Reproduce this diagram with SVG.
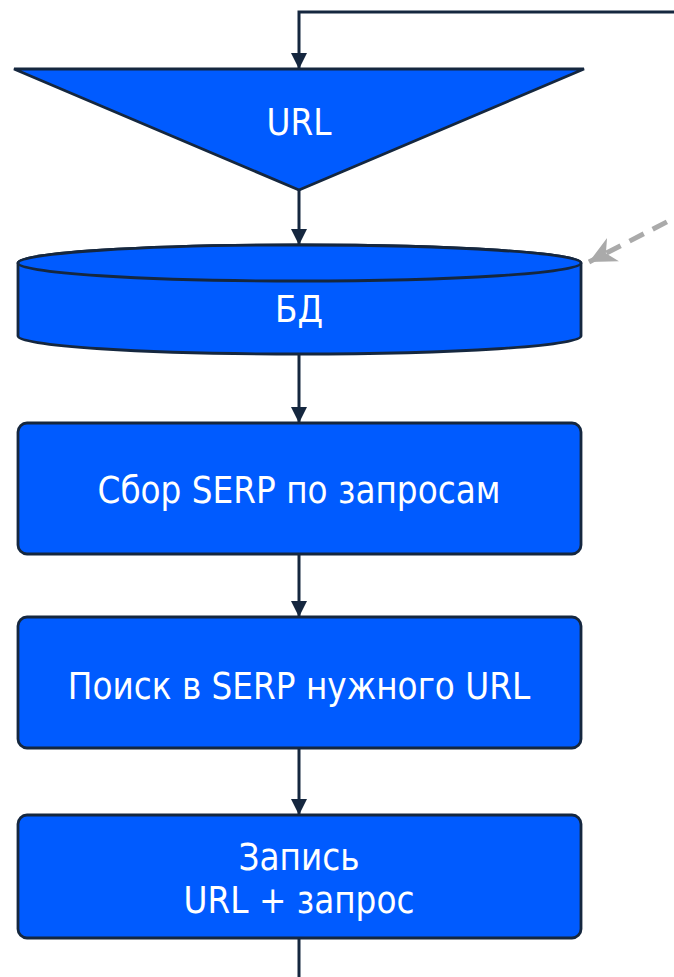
<svg xmlns="http://www.w3.org/2000/svg" width="674" height="977" viewBox="0 0 674 977">
  <style>
    .shape { fill: #005bff; stroke: #15273f; stroke-width: 2.8; }
    .lbl { fill: #ffffff; font-family: "DejaVu Sans Condensed", "DejaVu Sans", sans-serif; font-stretch: condensed; font-size: 36.4px; text-anchor: middle; }
    .conn { fill: none; stroke: #15273f; stroke-width: 3; }
    .dash { fill: none; stroke: #aaaaaa; stroke-width: 5; stroke-dasharray: 16 10; }
  </style>
  <defs>
    <marker id="arr" markerUnits="userSpaceOnUse" markerWidth="16" markerHeight="18" refX="15" refY="8" orient="auto">
      <path d="M0,0 L16,8 L0,16 Z" fill="#15273f"/>
    </marker>
    <marker id="garr" markerUnits="userSpaceOnUse" markerWidth="32" markerHeight="32" refX="29" refY="15" orient="auto">
      <path d="M2,2 L29,15 L2,28 L10,15 Z" fill="#aaaaaa"/>
    </marker>
  </defs>
  <rect width="674" height="977" fill="#ffffff"/>
  <g id="connectors">
    <path class="conn" d="M674,12 H299 V68" marker-end="url(#arr)"/>
    <path class="conn" d="M299,190 V244" marker-end="url(#arr)"/>
    <path class="conn" d="M299,354 V422" marker-end="url(#arr)"/>
    <path class="conn" d="M299,554 V616" marker-end="url(#arr)"/>
    <path class="conn" d="M299,748 V814" marker-end="url(#arr)"/>
    <path class="conn" d="M299,938 V977"/>
    <path class="dash" d="M690,210 L589,262" marker-end="url(#garr)"/>
  </g>
  <g id="node-url">
    <path class="shape" d="M14,69 L584,69 L299,190 Z"/>
    <text class="lbl" x="299" y="135">URL</text>
  </g>
  <g id="node-db">
    <path class="shape" d="M18,263 V336 A281.5,18 0 0 0 581,336 V263 A281.5,18 0 0 0 18,263 Z"/>
    <ellipse class="shape" cx="299.5" cy="263" rx="281.5" ry="18"/>
    <text class="lbl" x="299" y="322">БД</text>
  </g>
  <g id="node-serp">
    <rect class="shape" x="18" y="423" width="563" height="131" rx="9"/>
    <text class="lbl" x="299" y="503">Сбор SERP по запросам</text>
  </g>
  <g id="node-search">
    <rect class="shape" x="18" y="617" width="563" height="131" rx="9"/>
    <text class="lbl" x="299" y="699">Поиск в SERP нужного URL</text>
  </g>
  <g id="node-write">
    <rect class="shape" x="18" y="815" width="563" height="123" rx="9"/>
    <text class="lbl" x="299" y="870">Запись</text>
    <text class="lbl" x="299" y="913">URL + запрос</text>
  </g>
</svg>
